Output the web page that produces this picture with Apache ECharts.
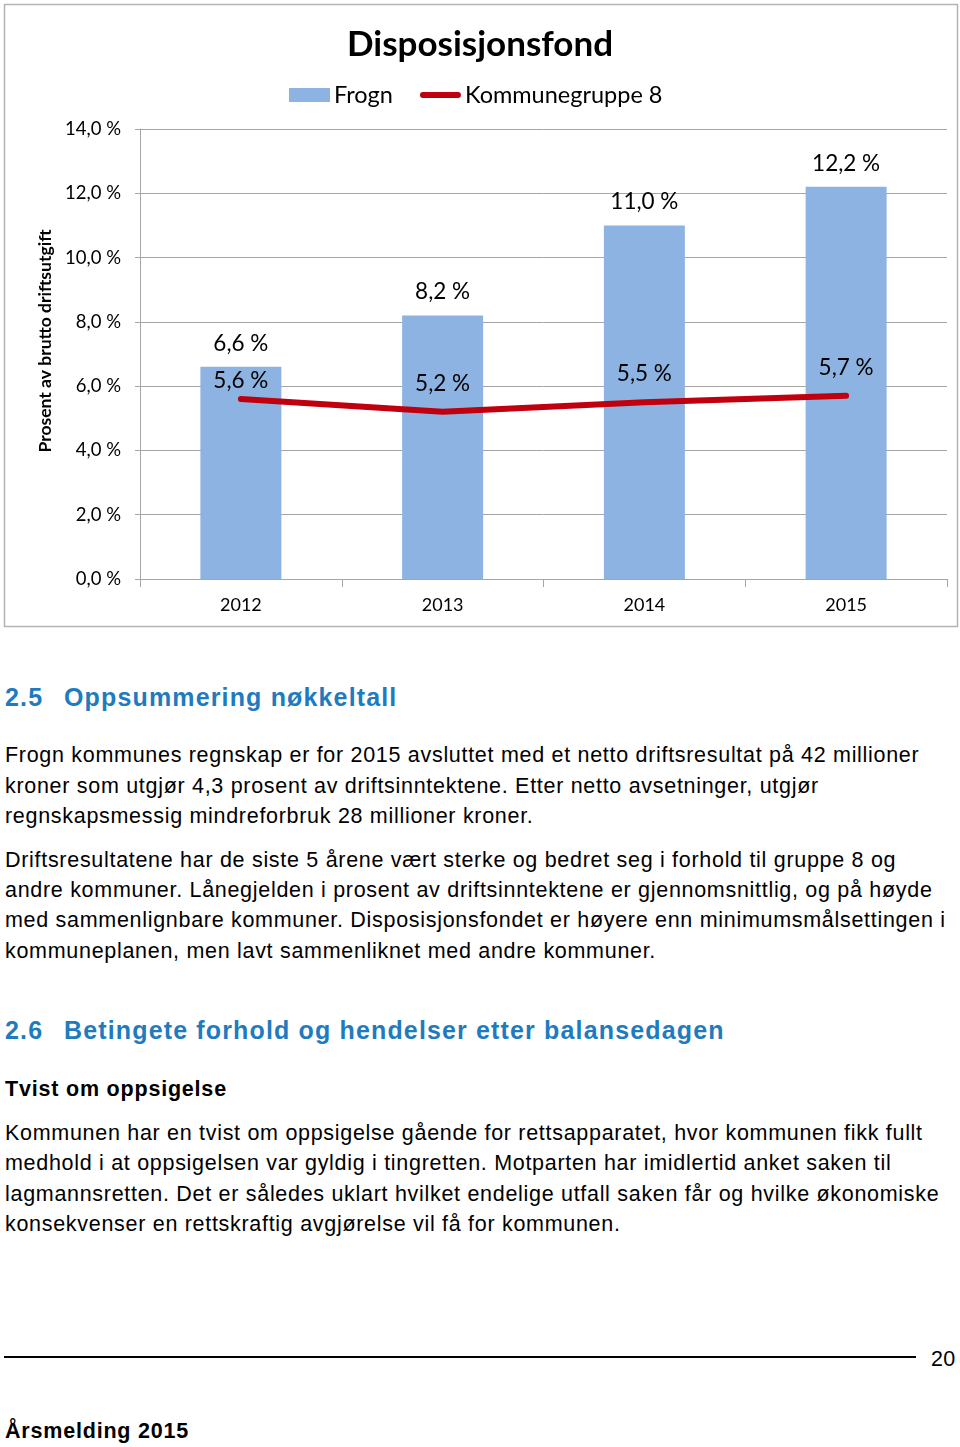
<!DOCTYPE html>
<html>
<head>
<meta charset="utf-8">
<script src="https://cdn.jsdelivr.net/npm/echarts@6/dist/echarts.min.js"></script>
<style>
  html, body { margin:0; padding:0; background:#fff; }
  body { width:960px; height:1447px; position:relative; overflow:hidden; font-family:"Liberation Sans", Arial, sans-serif; color:#000; }
  #chart { position:absolute; left:0; top:0; width:960px; height:640px; }
  .t { position:absolute; left:5px; white-space:nowrap; font-size:21.5px; letter-spacing:0.7px; line-height:30px; }
  .h { position:absolute; left:5px; white-space:nowrap; font-size:25px; letter-spacing:1.15px; font-weight:bold; color:#1F7BC0; line-height:30px; }
  .h span.n { display:inline-block; width:59px; }
  .b { position:absolute; left:5px; white-space:nowrap; font-size:21.5px; letter-spacing:0.8px; font-weight:bold; line-height:30px; }
</style>
</head>
<body>
<div id="chart"></div>

<div class="h" style="top:682px;"><span class="n">2.5</span>Oppsummering nøkkeltall</div>
<div class="t" style="top:740px;">Frogn kommunes regnskap er for 2015 avsluttet med et netto driftsresultat på 42 millioner</div>
<div class="t" style="top:771px;">kroner som utgjør 4,3 prosent av driftsinntektene. Etter netto avsetninger, utgjør</div>
<div class="t" style="top:801px;">regnskapsmessig mindreforbruk 28 millioner kroner.</div>
<div class="t" style="top:845px;">Driftsresultatene har de siste 5 årene vært sterke og bedret seg i forhold til gruppe 8 og</div>
<div class="t" style="top:875px;">andre kommuner. Lånegjelden i prosent av driftsinntektene er gjennomsnittlig, og på høyde</div>
<div class="t" style="top:905px;">med sammenlignbare kommuner. Disposisjonsfondet er høyere enn minimumsmålsettingen i</div>
<div class="t" style="top:936px;">kommuneplanen, men lavt sammenliknet med andre kommuner.</div>

<div class="h" style="top:1015px;"><span class="n">2.6</span>Betingete forhold og hendelser etter balansedagen</div>
<div class="b" style="top:1074px;">Tvist om oppsigelse</div>
<div class="t" style="top:1118px;">Kommunen har en tvist om oppsigelse gående for rettsapparatet, hvor kommunen fikk fullt</div>
<div class="t" style="top:1148px;">medhold i at oppsigelsen var gyldig i tingretten. Motparten har imidlertid anket saken til</div>
<div class="t" style="top:1179px;">lagmannsretten. Det er således uklart hvilket endelige utfall saken får og hvilke økonomiske</div>
<div class="t" style="top:1209px;">konsekvenser en rettskraftig avgjørelse vil få for kommunen.</div>

<div style="position:absolute; left:4px; top:1356px; width:912px; height:2px; background:#000;"></div>
<div class="t" style="left:931px; top:1344px; letter-spacing:0.3px;">20</div>
<div class="b" style="top:1416px;">Årsmelding 2015</div>

<script>
const categories = ['2012', '2013', '2014', '2015'];
const frogn = [6.6, 8.2, 11.0, 12.2];
const kommunegruppe8 = [5.6, 5.2, 5.5, 5.7];
const yTicks = { min: 0, max: 14, interval: 2 };

const fmt = v => v.toFixed(1).replace('.', ',') + ' %';
const chartFont = 'Lato, "Open Sans", sans-serif';
const lineColor = '#C0000E';
const barColor = '#8DB3E2';

const chart = echarts.init(document.getElementById('chart'), null, { renderer: 'canvas' });
chart.setOption({
  animation: false,
  textStyle: { fontFamily: chartFont },
  title: {
    text: 'Disposisjonsfond',
    left: 'center',
    top: 22,
    textStyle: { fontSize: 35, fontWeight: 'bold', color: '#000', fontFamily: chartFont }
  },
  legend: {
    left: 284,
    top: 78,
    itemGap: 27,
    itemWidth: 41,
    itemHeight: 14,
    symbolKeepAspect: true,
    textStyle: { fontSize: 23.5, color: '#000', padding: [0, 0, 0, -1] },
    data: [
      { name: 'Frogn', icon: 'rect', itemStyle: { color: barColor } },
      { name: 'Kommunegruppe 8', icon: 'path://M3,0 L39,0 Q42,0 42,3 Q42,6 39,6 L3,6 Q0,6 0,3 Q0,0 3,0 Z',
        itemStyle: { color: lineColor, opacity: 1 } }
    ]
  },
  graphic: [
    { type: 'rect', shape: { x: 4.5, y: 4.5, width: 953, height: 622 }, style: { fill: 'none', stroke: '#B4B4B4', lineWidth: 1.5 }, silent: true },
    { type: 'text', x: 45, y: 341, rotation: Math.PI / 2,
      style: { text: 'Prosent av brutto driftsutgift', font: 'bold 17.5px ' + chartFont, fill: '#000', align: 'center', verticalAlign: 'middle' } }
  ],
  grid: { left: 140, top: 129, width: 807, height: 450, containLabel: false },
  xAxis: {
    type: 'category',
    data: categories,
    axisLine: { lineStyle: { color: '#A6A6A6', width: 1 } },
    axisTick: { show: true, length: 8, lineStyle: { color: '#A6A6A6' } },
    axisLabel: { fontSize: 18, color: '#000', margin: 17 }
  },
  yAxis: {
    type: 'value',
    min: yTicks.min, max: yTicks.max, interval: yTicks.interval,
    axisLine: { show: true, lineStyle: { color: '#A6A6A6', width: 1 } },
    axisTick: { show: true, length: 5, lineStyle: { color: '#A6A6A6' } },
    axisLabel: { fontSize: 18.5, color: '#000', margin: 19, formatter: fmt },
    splitLine: { lineStyle: { color: '#A6A6A6', width: 1 } }
  },
  series: [
    {
      name: 'Frogn',
      type: 'bar',
      data: frogn,
      barWidth: 81,
      itemStyle: { color: barColor },
      label: { show: true, position: 'top', distance: 12, fontSize: 22.5, color: '#000', formatter: p => fmt(p.value) }
    },
    {
      name: 'Kommunegruppe 8',
      type: 'line',
      data: kommunegruppe8,
      symbol: 'circle',
      symbolSize: 1,
      showSymbol: true,
      z: 3,
      lineStyle: { color: lineColor, width: 6, cap: 'round', join: 'round' },
      itemStyle: { color: lineColor, opacity: 0 },
      label: { show: true, position: 'top', distance: 16, fontSize: 22.5, color: '#000', opacity: 1, formatter: p => fmt(p.value) },
      labelLayout: p => (p.dataIndex === 0 ? { dy: 10 } : {})
    }
  ]
});
</script>
</body>
</html>
